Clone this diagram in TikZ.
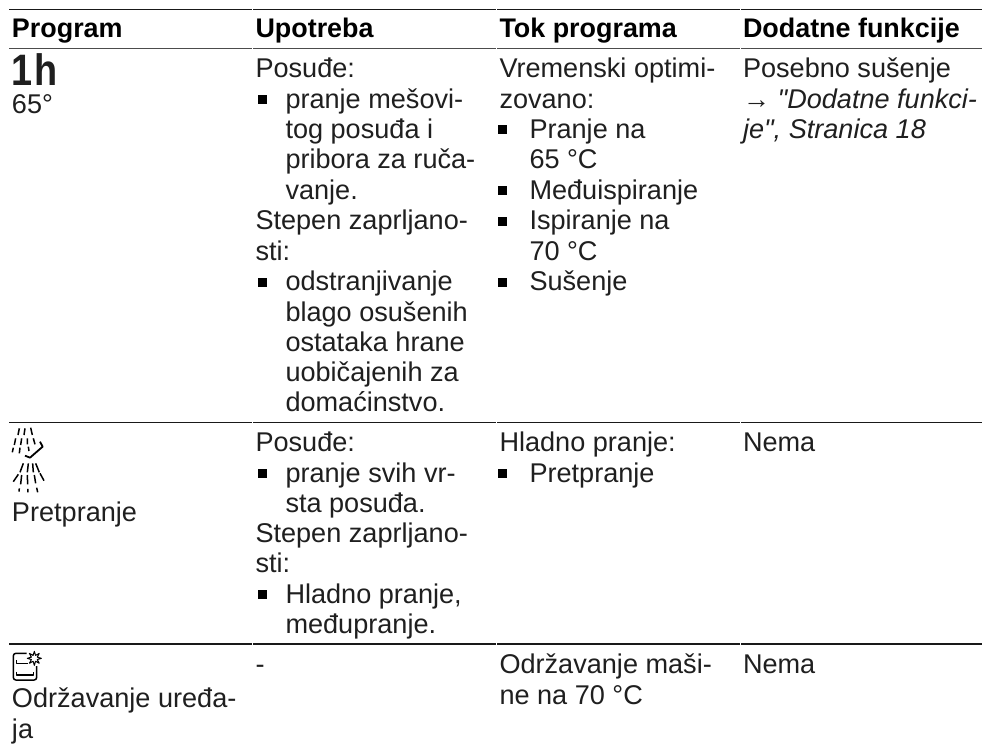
\documentclass[tikz,border=0pt]{standalone}
\usepackage{graphicx}
\usepackage{fontspec}
\setmainfont{Liberation Sans}[Ligatures=TeXOff]
\usetikzlibrary{shapes.geometric}
\newcounter{tlc}
\newcommand{\tl}[3]{\stepcounter{tlc}\node[txt,name=t\arabic{tlc}] at (#1,#2) {#3};}
\newcommand{\bl}[3]{\stepcounter{tlc}\node[blt,name=b\arabic{tlc}] at (#1+7.3,#2-8.5) {};\node[txt,name=t\arabic{tlc}] at (#1+30,#2) {#3};}
\tikzset{
 txt/.style={anchor=base west,inner sep=0pt,outer sep=0pt,font=\fontsize{27.1}{30}\selectfont,text=black!88},
 hdr/.style={txt,font=\fontsize{26.9}{30}\selectfont\bfseries,text=black},
 blt/.style={fill=black,inner sep=0pt,minimum width=9pt,minimum height=9pt},
 rulea/.style={line width=1.3pt,black!90},
 ruleb/.style={line width=1.8pt,black!70},
 ico/.style={line width=1.5pt,black,line cap=butt,line join=round}
}
\begin{document}
\begin{tikzpicture}[x=1pt,y=-1pt]
\useasboundingbox (0,0) rectangle (982,744);
\fill[white] (0,0) rectangle (982,744);
% rules
\foreach \y/\s in {9.5/rulea,48.5/ruleb,422.5/rulea,644/rulea}{
 \draw[\s] (9,\y) -- (252,\y);
 \draw[\s] (253,\y) -- (496,\y);
 \draw[\s] (497,\y) -- (740,\y);
 \draw[\s] (741,\y) -- (982,\y);
}
% header
\node[hdr,name=h1] at (12,37.7) {Program};
\node[hdr,name=h2] at (255.5,37.7) {Upotreba};
\node[hdr,name=h3] at (499.5,37.7) {Tok programa};
\node[hdr,name=h4] at (743,37.7) {Dodatne funkcije};
% col 1
\node[txt,name=oneh,font=\fontsize{44}{44}\selectfont\bfseries] at (11,85) {\scalebox{0.86}[1]{1\kern3pt h}};
\tl{12}{113.3}{65°}
\tl{12}{521}{Pretpranje}
\tl{12}{707.7}{Održavanje uređa-}
\tl{12}{738.5}{ja}
% col 2
\tl{255.5}{77.5}{Posuđe:}
\bl{255.5}{108}{pranje mešovi-}
\tl{285.5}{138.3}{tog posuđa i}
\tl{285.5}{168.7}{pribora za ruča-}
\tl{285.5}{199}{vanje.}
\tl{255.5}{229.5}{Stepen zaprljano-}
\tl{255.5}{260}{sti:}
\bl{255.5}{290.5}{odstranjivanje}
\tl{285.5}{321}{blago osušenih}
\tl{285.5}{351}{ostataka hrane}
\tl{285.5}{381.5}{uobičajenih za}
\tl{285.5}{411.7}{domaćinstvo.}
\tl{255.5}{451.7}{Posuđe:}
\bl{255.5}{482}{pranje svih vr-}
\tl{285.5}{512}{sta posuđa.}
\tl{255.5}{542.7}{Stepen zaprljano-}
\tl{255.5}{572.7}{sti:}
\bl{255.5}{603}{Hladno pranje,}
\tl{285.5}{633}{međupranje.}
\tl{255.5}{673}{-}
% col 3
\tl{499.5}{77.5}{Vremenski optimi-}
\tl{499.5}{108}{zovano:}
\bl{495}{138.3}{\kern4.5pt Pranje na}
\tl{529.5}{168.7}{65 °C}
\bl{495}{199}{\kern4.5pt Međuispiranje}
\bl{495}{229.5}{\kern4.5pt Ispiranje na}
\tl{529.5}{260}{70 °C}
\bl{495}{290.5}{\kern4.5pt Sušenje}
\tl{499.5}{451.7}{Hladno pranje:}
\bl{495}{482}{\kern4.5pt Pretpranje}
\tl{499.5}{673}{Održavanje maši-}
\tl{499.5}{704}{ne na 70 °C}
% col 4
\tl{743}{77.5}{Posebno sušenje}
\tl{743}{108}{→ \textit{"Dodatne funkci-}}
\tl{743}{138.3}{\textit{je", Stranica 18}}
\tl{743}{451.7}{Nema}
\tl{743}{673}{Nema}
% pre-rinse icon
\begin{scope}[shift={(0,415)},x=0.3333pt,y=-0.3333pt,ico]
 \draw (58,40)--(54,60) (75,40)--(72,60) (92,38)--(97,60);
 \draw (47,70)--(43,90) (65,70)--(62,90) (82,70)--(82,88) (100,70)--(105,88);
 \draw (40,98)--(37,112) (60,98)--(58,115) (85,95)--(87,108);
 \draw[line width=1.8pt] (75,122)--(90,128)--(128,95)--(120,80);
 \draw (70,145)--(60,172) (85,145)--(82,172) (98,145)--(100,172) (107,145)--(118,172);
 \draw (55,178)--(40,200) (65,180)--(62,208) (82,180)--(83,208) (103,180)--(107,205) (120,175)--(132,197);
 \draw (58,220)--(57,230) (84,222)--(84,232) (110,218)--(113,232);
\end{scope}
% machine care icon
\begin{scope}[shift={(0,610)},x=0.3333pt,y=-0.3333pt,ico]
 \draw[rounded corners=2.5pt] (80,130)--(40,130)--(40,210)--(110,210)--(110,168);
 \draw (50,150)--(50,160)--(85,160);
 \draw (50,185)--(50,195)--(100,195)--(100,185);
 \node[star,star points=8,star point ratio=2.2,draw=black,fill=white,line width=1pt,minimum size=14pt,inner sep=0pt,name=sparkle] at (103,145) {};
\end{scope}
\end{tikzpicture}
\end{document}
